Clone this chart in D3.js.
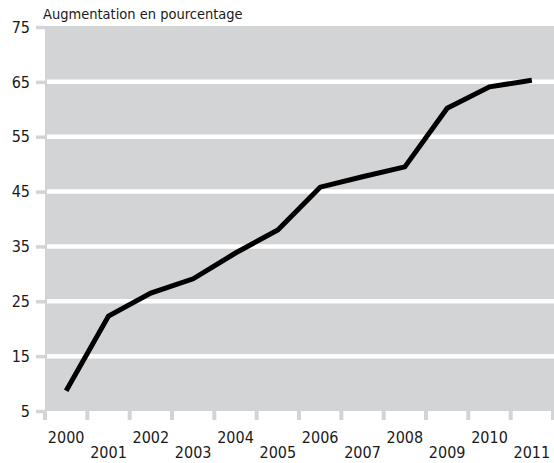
<!DOCTYPE html>
<html>
<head>
<meta charset="utf-8">
<script src="https://cdn.jsdelivr.net/npm/d3@7"></script>
<style>
  body { margin: 0; background: #fff; }
  svg text { font-family: "DejaVu Sans"; font-stretch: condensed; fill: #1a1a1a; }
</style>
</head>
<body>
<div id="chart"></div>
<script>
// years on the x axis
var years = ["2000", "2001", "2002", "2003", "2004", "2005", "2006", "2007", "2008", "2009", "2010", "2011"];
// percentage increase
var increase = [8.7, 22.3, 26.5, 29.1, 33.8, 38.0, 45.8, 47.7, 49.5, 60.2, 64.1, 65.3];
var yTicks = [5, 15, 25, 35, 45, 55, 65, 75];
var title = "Augmentation en pourcentage";

var width = 554, height = 463;
var plotLeft = 45, plotRight = 553, plotTop = 27, plotBottom = 411;
var bg = "#d3d4d6";

var svg = d3.select("#chart").append("svg")
  .attr("width", width)
  .attr("height", height);

var x = d3.scaleBand().domain(years).range([plotLeft, plotRight]);
var y = d3.scaleLinear().domain([5, 75]).range([plotBottom, plotTop]);

// grey panel
svg.append("rect")
  .attr("x", plotLeft)
  .attr("y", plotTop - 1)
  .attr("width", width - plotLeft)
  .attr("height", plotBottom - plotTop + 1)
  .attr("fill", bg);

// white gridlines
svg.append("g")
  .selectAll("line")
  .data(yTicks.slice(1, -1))
  .enter().append("line")
    .attr("x1", plotLeft + 2)
    .attr("x2", width)
    .attr("y1", d => y(d))
    .attr("y2", d => y(d))
    .attr("stroke", "#fff")
    .attr("stroke-width", 4.5);

// y axis
var yAxis = svg.append("g")
  .attr("transform", "translate(" + plotLeft + ",0)")
  .call(d3.axisLeft(y).tickValues(yTicks).tickSize(9).tickPadding(6));
yAxis.select(".domain").remove();
yAxis.selectAll(".tick line").attr("stroke", bg).attr("stroke-width", 3.5);
yAxis.selectAll(".tick text")
  .attr("font-size", 16)
  .attr("font-family", null)
  .attr("dy", "0.33em");

// x axis ticks at band edges
var edges = years.map(d => x(d)).concat([plotRight]);
svg.append("g")
  .selectAll("line")
  .data(edges)
  .enter().append("line")
    .attr("x1", d => d)
    .attr("x2", d => d)
    .attr("y1", plotBottom)
    .attr("y2", plotBottom + 9)
    .attr("stroke", bg)
    .attr("stroke-width", 4);

// staggered year labels
svg.append("g")
  .selectAll("text")
  .data(years)
  .enter().append("text")
    .attr("x", d => x(d) + x.bandwidth() / 2)
    .attr("y", (d, i) => i % 2 == 0 ? 443 : 458)
    .attr("text-anchor", "middle")
    .attr("font-size", 16)
    .text(d => d);

// line
var line = d3.line()
  .x((d, i) => x(years[i]) + x.bandwidth() / 2)
  .y(d => y(d));

svg.append("path")
  .datum(increase)
  .attr("d", line)
  .attr("fill", "none")
  .attr("stroke", "#000")
  .attr("stroke-width", 5);

svg.append("text")
  .attr("x", 43)
  .attr("y", 19)
  .attr("font-size", 14.5)
  .text(title);
</script>
</body>
</html>
